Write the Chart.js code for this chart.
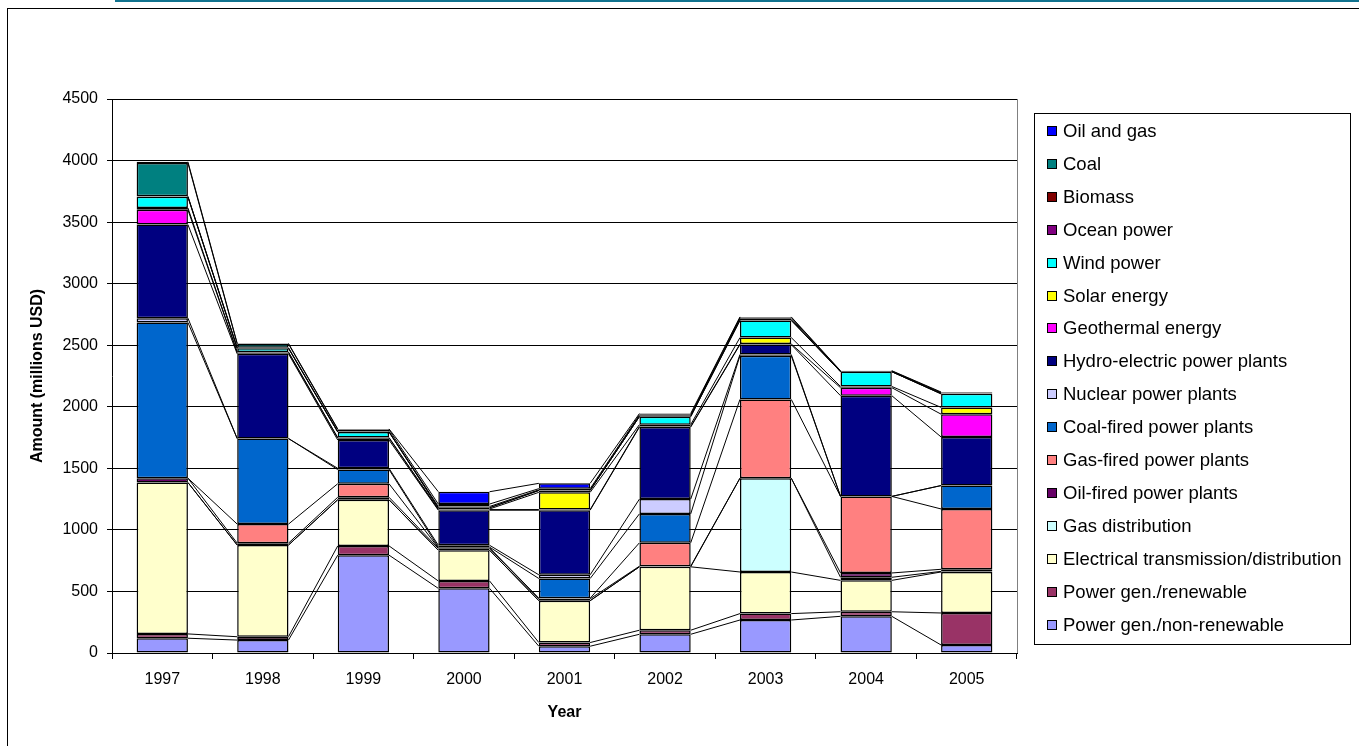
<!DOCTYPE html>
<html><head><meta charset="utf-8">
<script src="https://cdn.jsdelivr.net/npm/chart.js@4.4.0/dist/chart.umd.min.js"></script>
<style>
html,body{margin:0;padding:0;background:#fff;overflow:hidden;}
#wrap{position:relative;width:1359px;height:746px;overflow:hidden;}
#frame{position:absolute;left:7px;top:8px;width:1400px;height:800px;border:1px solid #000;box-sizing:border-box;}
#topline{position:absolute;left:115px;top:0;width:1300px;height:2px;background:#11738f;}
canvas{position:absolute;left:0;top:0;}
</style></head><body>
<div id="wrap"><div id="topline"></div><div id="frame"></div><canvas id="c" width="1359" height="746"></canvas></div>
<script>
// Categories
const years = ['1997','1998','1999','2000','2001','2002','2003','2004','2005'];
// Series values (millions USD), stacked bottom to top
const powerGenNonRenewable = [120,105,795,525,55,152,268,298,65];
const powerGenRenewable    = [35,27,75,60,30,33,52,37,260];
const elecTransDist        = [1230,745,375,250,340,515,338,255,333];
const gasDistribution      = [0,0,0,0,0,0,762,25,5];
const oilFiredPlants       = [35,15,20,15,15,5,0,35,17];
const gasFiredPlants       = [0,155,110,5,5,190,640,622,490];
const coalFiredPlants      = [1265,695,115,5,160,235,355,0,190];
const nuclearPlants        = [35,0,10,15,30,120,10,0,0];
const hydroPlants          = [760,688,230,285,525,585,80,818,395];
const geothermalEnergy     = [120,10,15,5,5,5,5,65,185];
const solarEnergy          = [15,5,5,5,140,15,52,10,55];
const windPower            = [90,30,45,10,15,65,138,120,110];
const oceanPower           = [0,0,0,0,0,0,5,0,0];
const biomass              = [5,5,5,10,5,7,10,0,5];
const coal                 = [270,30,15,20,10,8,10,5,5];
const oilAndGas            = [10,5,5,100,43,10,5,3,5];
// Y tick labels
const yTicks = [0,500,1000,1500,2000,2500,3000,3500,4000,4500];

const seriesDefs = [
  ['Power gen./non-renewable', powerGenNonRenewable, '#9999FF'],
  ['Power gen./renewable', powerGenRenewable, '#993366'],
  ['Electrical transmission/distribution', elecTransDist, '#FFFFCC'],
  ['Gas distribution', gasDistribution, '#CCFFFF'],
  ['Oil-fired power plants', oilFiredPlants, '#660066'],
  ['Gas-fired power plants', gasFiredPlants, '#FF8080'],
  ['Coal-fired power plants', coalFiredPlants, '#0066CC'],
  ['Nuclear power plants', nuclearPlants, '#CCCCFF'],
  ['Hydro-electric power plants', hydroPlants, '#000080'],
  ['Geothermal energy', geothermalEnergy, '#FF00FF'],
  ['Solar energy', solarEnergy, '#FFFF00'],
  ['Wind power', windPower, '#00FFFF'],
  ['Ocean power', oceanPower, '#800080'],
  ['Biomass', biomass, '#800000'],
  ['Coal', coal, '#008080'],
  ['Oil and gas', oilAndGas, '#0000FF']
];

Chart.defaults.font.family = '"Liberation Sans", Arial, sans-serif';
Chart.defaults.color = '#000';

const seriesLines = {
  id: 'seriesLines',
  afterDatasetsDraw(chart) {
    const ctx = chart.ctx;
    ctx.save();
    ctx.strokeStyle = '#000';
    ctx.lineWidth = 1;
    chart.data.datasets.forEach((ds, di) => {
      const meta = chart.getDatasetMeta(di);
      for (let i = 0; i < meta.data.length - 1; i++) {
        const a = meta.data[i], b = meta.data[i + 1];
        ctx.beginPath();
        ctx.moveTo(a.x + a.width / 2, a.y);
        ctx.lineTo(b.x - b.width / 2, b.y);
        ctx.stroke();
      }
    });
    // plot area right border
    const ca = chart.chartArea;
    ctx.strokeStyle = '#808080';
    ctx.beginPath();
    ctx.moveTo(Math.round(ca.right) + 0.5, ca.top);
    ctx.lineTo(Math.round(ca.right) + 0.5, ca.bottom);
    ctx.stroke();
    ctx.restore();
  }
};

const legendBox = {
  id: 'legendBox',
  afterDraw(chart) {
    const ctx = chart.ctx;
    const ds = chart.data.datasets;
    const n = ds.length;
    ctx.save();
    ctx.strokeStyle = '#000';
    ctx.lineWidth = 1;
    ctx.strokeRect(1034.5, 113.5, 316, 531);
    ctx.font = '18.5px "Liberation Sans", Arial, sans-serif';
    ctx.textBaseline = 'middle';
    ctx.textAlign = 'left';
    for (let k = 0; k < n; k++) {
      const d = ds[n - 1 - k];
      const y = Math.round(131 + k * 32.9);
      ctx.fillStyle = d.backgroundColor;
      ctx.fillRect(1047, y - 5, 10, 10);
      ctx.strokeStyle = '#000';
      ctx.strokeRect(1047.5, y - 4.5, 9, 9);
      ctx.fillStyle = '#000';
      ctx.fillText(d.label, 1063, y + 1);
    }
    ctx.restore();
  }
};

new Chart(document.getElementById('c'), {
  type: 'bar',
  data: {
    labels: years,
    datasets: seriesDefs.map(([label, data, color]) => ({
      label, data,
      backgroundColor: color,
      borderColor: '#000',
      borderWidth: 1.5,
      borderSkipped: false,
      barPercentage: 0.51,
      categoryPercentage: 1.0
    }))
  },
  options: {
    responsive: false,
    animation: false,
    layout: { padding: { left: 20, right: 342, top: 99, bottom: 0 } },
    plugins: { legend: { display: false }, tooltip: { enabled: false } },
    scales: {
      x: {
        stacked: true,
        offset: true,
        grid: { offset: true, drawOnChartArea: false, drawTicks: true, tickLength: 6, color: '#000' },
        border: { color: '#000' },
        ticks: { font: { size: 16 }, padding: 11, color: '#000' },
        title: { display: true, text: 'Year', font: { size: 16, weight: 'bold' }, color: '#000', padding: { top: 0, bottom: 24 } },
        afterFit: s => { s.height = 93; }
      },
      y: {
        stacked: true,
        min: 0, max: 4500,
        afterBuildTicks: s => { s.ticks = yTicks.map(v => ({ value: v })); },
        grid: { color: '#000', drawTicks: true, tickLength: 5 },
        border: { color: '#000' },
        ticks: { font: { size: 16 }, padding: 9, color: '#000', callback: v => String(v) },
        title: { display: true, text: 'Amount (millions USD)', font: { size: 16, weight: 'bold' }, color: '#000', padding: { top: 8, bottom: 0 } },
        afterFit: s => { s.width = 92; }
      }
    }
  },
  plugins: [seriesLines, legendBox]
});
</script>
</body></html>
